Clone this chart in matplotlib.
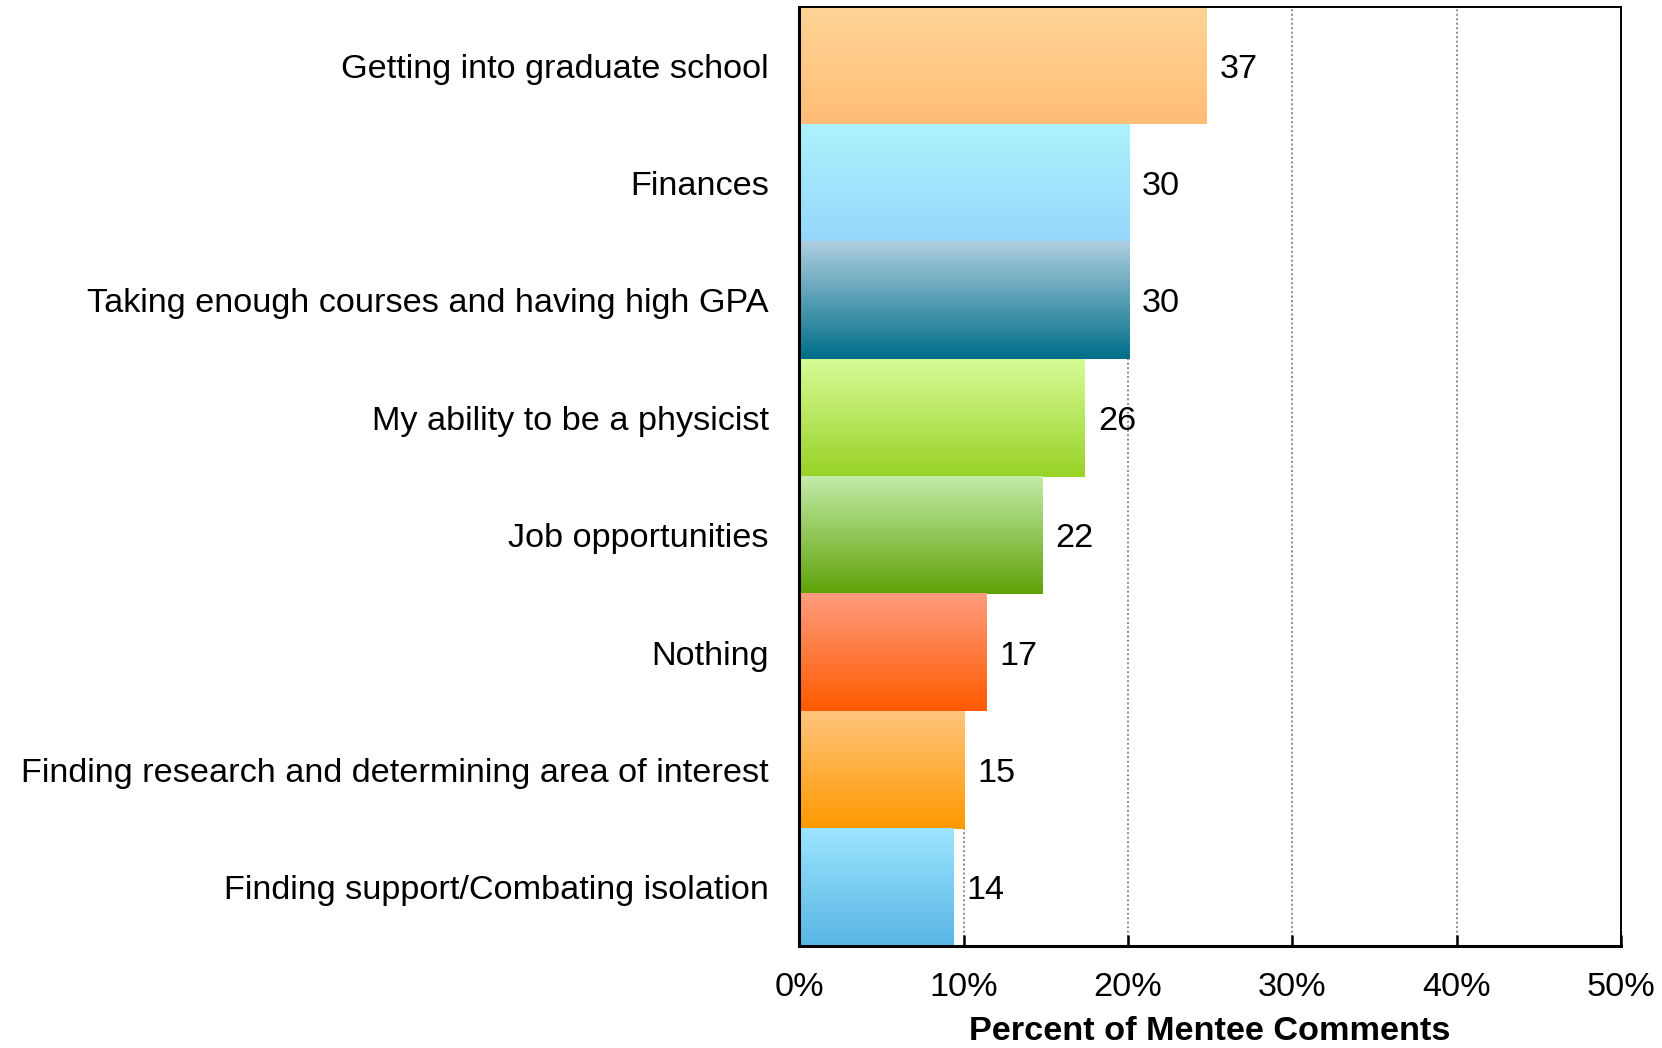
import numpy as np
import matplotlib
matplotlib.use("Agg")
import matplotlib.pyplot as plt
from matplotlib.colors import to_rgb
from matplotlib.ticker import FixedLocator, PercentFormatter

plt.rcParams['font.family'] = ['Liberation Sans', 'DejaVu Sans']

categories = [
    "Getting into graduate school",
    "Finances",
    "Taking enough courses and having high GPA",
    "My ability to be a physicist",
    "Job opportunities",
    "Nothing",
    "Finding research and determining area of interest",
    "Finding support/Combating isolation",
]
# share of mentee comments (%) and the number of comments printed next to each bar
percents = [24.8, 20.1, 20.1, 17.4, 14.8, 11.4, 10.1, 9.4]
counts = [37, 30, 30, 26, 22, 17, 15, 14]

# gradient colours, top of bar -> bottom of bar
top_colors = ["#FFD496", "#AEF2FC", "#AECEE0", "#D6FC96", "#C4EBA8", "#FF9C7E", "#FFC47C", "#9CE4FE"]
bottom_colors = ["#FFBD76", "#96D6FC", "#006E88", "#98D226", "#5EA208", "#FF5A00", "#FF9900", "#58B6E4"]

FS = 24.7

fig = plt.figure(figsize=(16.62, 10.48), dpi=100)
ax = fig.add_axes([0.481, 0.0973, 0.4943, 0.896])

n = len(categories)
ypos = np.arange(n)

# grid first so bars cover it
for gx in [10, 20, 30, 40]:
    ax.axvline(gx, color="#8c8c8c", lw=1.4, linestyle=(0, (1, 1.3)), zorder=0)

bars = ax.barh(ypos, percents, height=1.0, color="none", edgecolor="none", zorder=2)

for i, b in enumerate(bars):
    c0 = np.array(to_rgb(top_colors[i]))
    c1 = np.array(to_rgb(bottom_colors[i]))
    t = np.linspace(0, 1, 128)[:, None]
    grad = (c0[None, :] * (1 - t) + c1[None, :] * t)[:, None, :]
    w = b.get_width()
    y = b.get_y()
    ax.imshow(grad, extent=[0, w, y + 1.0, y], origin="upper", aspect="auto",
              interpolation="bilinear", zorder=2)
    ax.annotate(str(counts[i]), xy=(w, ypos[i]), xytext=(9, 0), textcoords="offset points",
                ha="left", va="center_baseline", fontsize=FS, zorder=3)

ax.set_xlim(0, 50)
ax.set_ylim(n - 0.5, -0.5)
ax.set_aspect("auto")

ax.xaxis.set_major_locator(FixedLocator([0, 10, 20, 30, 40, 50]))
ax.xaxis.set_major_formatter(PercentFormatter(decimals=0))
ax.tick_params(axis="x", direction="in", length=8, width=1.8, pad=19, labelsize=FS)

ax.set_yticks(ypos)
ax.set_yticklabels(categories)
ax.tick_params(axis="y", which="major", length=0, pad=22, labelsize=FS)
ax.yaxis.set_minor_locator(FixedLocator(np.arange(n + 1) - 0.5))
ax.tick_params(axis="y", which="minor", direction="in", length=8, width=1.8)

ax.set_xlabel("Percent of Mentee Comments", fontsize=FS, fontweight="bold", labelpad=9)

for side in ["left", "bottom"]:
    ax.spines[side].set_linewidth(2.2)
for side in ["top", "right"]:
    ax.spines[side].set_linewidth(1.4)
for sp in ax.spines.values():
    sp.set_zorder(5)

fig.savefig("out.png", dpi=100)
